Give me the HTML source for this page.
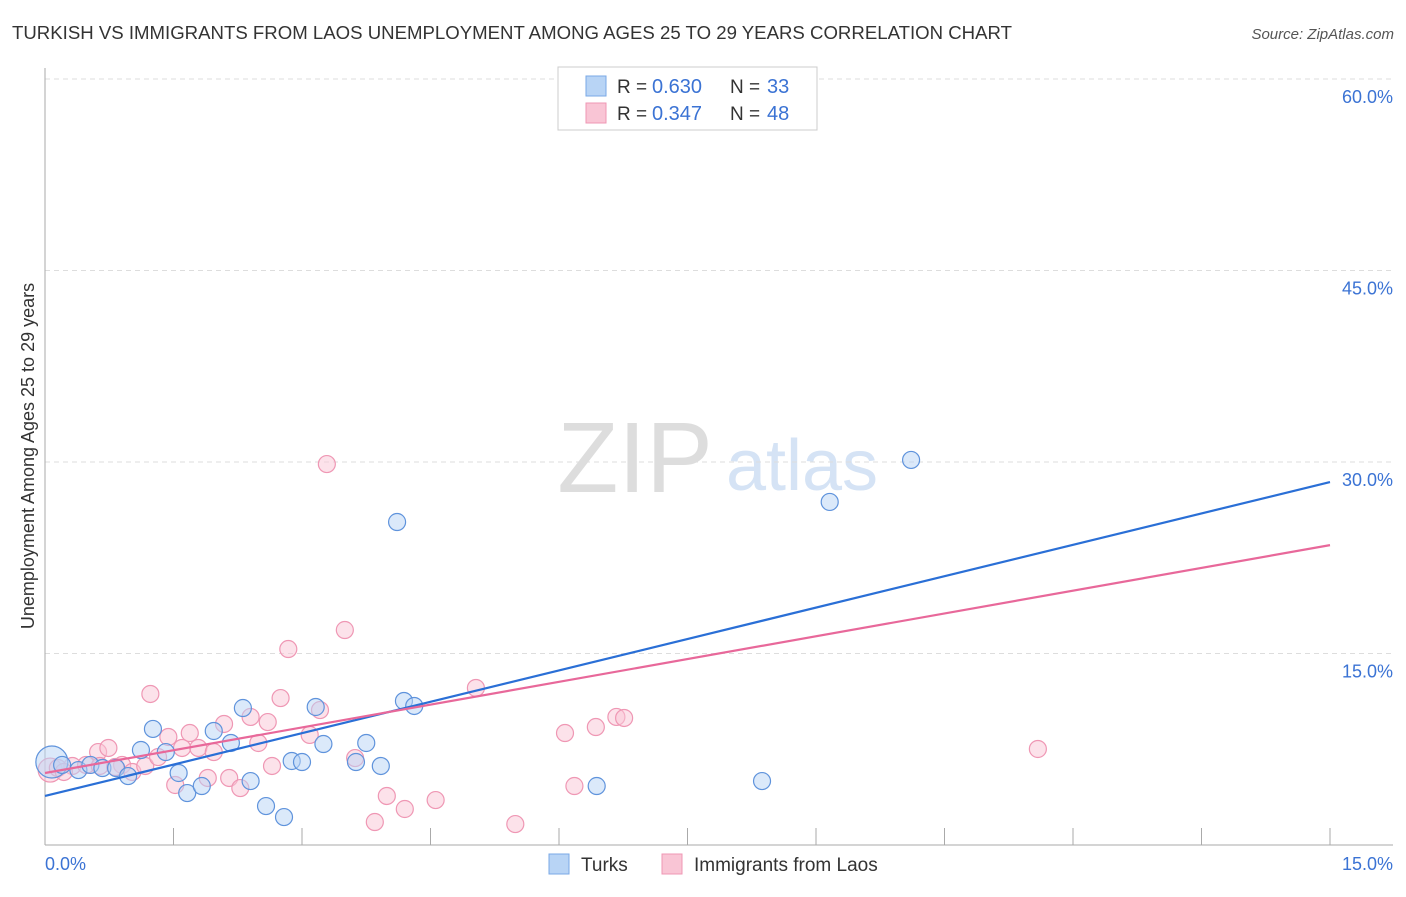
<!DOCTYPE html>
<html><head><meta charset="utf-8"><style>
body{margin:0;background:#fff;font-family:"Liberation Sans",sans-serif}
svg text{font-family:"Liberation Sans",sans-serif}
</style></head><body>
<svg id="c" width="1406" height="892" xmlns="http://www.w3.org/2000/svg">
<text x="12" y="39" font-size="18" fill="#333" textLength="1000" lengthAdjust="spacingAndGlyphs">TURKISH VS IMMIGRANTS FROM LAOS UNEMPLOYMENT AMONG AGES 25 TO 29 YEARS CORRELATION CHART</text>
<text x="1394" y="39" font-size="15" fill="#555" font-style="italic" text-anchor="end">Source: ZipAtlas.com</text>
<text x="635" y="492" font-size="100" fill="#ddd" font-family="Liberation Serif" text-anchor="middle">ZIP</text>
<text x="802" y="490" font-size="72" fill="#d5e3f5" text-anchor="middle">atlas</text>
<text transform="translate(34,456) rotate(-90)" font-size="18" fill="#333" text-anchor="middle">Unemployment Among Ages 25 to 29 years</text>
<g id="grid"></g><g id="pts"></g><g id="lines"></g>
<g>
<rect x="558" y="67" width="259" height="63" fill="#fff" stroke="#ccc"/>
<rect x="586" y="76" width="20" height="20" fill="#b8d4f5" stroke="#7aa8e6"/>
<rect x="586" y="103" width="20" height="20" fill="#f9c5d5" stroke="#ef97b4"/>
<text x="617" y="93" font-size="19" fill="#333">R =</text><text x="652" y="93" font-size="20" fill="#3b73d4">0.630</text>
<text x="730" y="93" font-size="19" fill="#333">N =</text><text x="767" y="93" font-size="20" fill="#3b73d4">33</text>
<text x="617" y="120" font-size="19" fill="#333">R =</text><text x="652" y="120" font-size="20" fill="#3b73d4">0.347</text>
<text x="730" y="120" font-size="19" fill="#333">N =</text><text x="767" y="120" font-size="20" fill="#3b73d4">48</text>
</g>
<g>
<rect x="549" y="854" width="20" height="20" fill="#b8d4f5" stroke="#7aa8e6"/>
<text x="581" y="871" font-size="19" fill="#333">Turks</text>
<rect x="662" y="854" width="20" height="20" fill="#f9c5d5" stroke="#ef97b4"/>
<text x="694" y="871" font-size="19" fill="#333">Immigrants from Laos</text>
</g>
</svg>
<script>
const yTicks=[15,30,45,60];
const xTickLabels=["0.0%","15.0%"];
const turksX=[0.08,0.2,0.39,0.53,0.67,0.83,0.97,1.12,1.26,1.41,1.56,1.66,1.83,1.97,2.17,2.31,2.40,2.58,2.79,2.88,3.0,3.16,3.25,3.63,3.75,3.92,4.11,4.19,4.31,6.44,8.37,9.16,10.11];
const turksY=[6.5,6.27,5.87,6.27,6.03,6.03,5.4,7.44,9.09,7.28,5.64,4.07,4.62,8.93,7.99,10.73,5.01,3.05,2.19,6.58,6.5,10.81,7.91,6.5,7.99,6.19,25.3,11.28,10.89,4.62,5.01,26.87,30.16];
const laosX=[0.06,0.15,0.32,0.48,0.62,0.74,0.90,1.02,1.17,1.23,1.32,1.44,1.52,1.60,1.69,1.79,1.90,1.97,2.09,2.15,2.28,2.40,2.49,2.60,2.65,2.75,2.84,3.09,3.21,3.29,3.50,3.62,3.85,3.99,4.20,4.56,5.03,5.49,6.07,6.18,6.43,6.67,6.76,8.81,11.59,0.22,0.64,0.82];
const laosY=[5.87,6.03,6.19,6.27,7.28,7.6,6.27,5.72,6.19,11.83,6.89,8.46,4.70,7.6,8.77,7.6,5.25,7.28,9.48,5.25,4.46,10.03,7.99,9.63,6.19,11.51,15.35,8.62,10.57,29.84,16.84,6.81,1.8,3.84,2.82,3.52,12.3,1.64,8.77,4.62,9.24,10.03,9.95,57.41,7.52,5.72,6.19,6.11];
const turksLine=[3.84,28.43];
const laosLine=[5.64,23.49];
const NS="http://www.w3.org/2000/svg";
const sx=v=>45+v/15*1285, sy=v=>845-v/15*191.5;
function mk(t,a,p){const e=document.createElementNS(NS,t);for(const k in a)e.setAttribute(k,a[k]);p.appendChild(e);return e;}
const g=document.getElementById('grid');
yTicks.forEach(t=>{
 const l=mk('line',{x1:45,x2:1393,y1:sy(t),y2:sy(t),stroke:'#ddd','stroke-dasharray':'5,4'},g);
 
 
 const tx=mk('text',{x:1393,y:sy(t)+24,'font-size':18,fill:'#3b73d4','text-anchor':'end'},g);tx.textContent=t.toFixed(1)+'%';
 
 
});
mk('line',{x1:45,x2:45,y1:68,y2:845,stroke:'#aaa'},g);
mk('line',{x1:45,x2:1393,y1:845,y2:845,stroke:'#aaa'},g);
for(let i=1;i<=10;i++){const x=sx(i*1.5);const t=mk('line',{x1:x,x2:x,y1:828,y2:845,stroke:'#aaa'},g);
 
 }
[[45,'start',0],[1393,'end',1]].forEach(([x,a,i])=>{const t=mk('text',{x:x,y:870,'font-size':18,fill:'#3b73d4','text-anchor':a},g);t.textContent=xTickLabels[i];
 
 });
const p=document.getElementById('pts');
function pts(X,Y,fill,stroke,name,big){X.forEach((x,i)=>{const c=mk('circle',{cx:sx(x),cy:sy(Y[i]),r:i==0?big:8.5,fill:fill,'fill-opacity':0.5,stroke:stroke,'stroke-width':1.2},p);
 
 });}
pts(laosX,laosY,'#f9c5d5','#ef97b4','point-laos',12);
pts(turksX,turksY,'#b8d4f5','#5f93dc','point-turks',16);
const L=document.getElementById('lines');
const l1=mk('line',{x1:sx(0),y1:sy(turksLine[0]),x2:sx(15),y2:sy(turksLine[1]),stroke:'#2a6fd6','stroke-width':2.2},L);


const l2=mk('line',{x1:sx(0),y1:sy(laosLine[0]),x2:sx(15),y2:sy(laosLine[1]),stroke:'#e8689a','stroke-width':2.2},L);


</script>
</body></html>
